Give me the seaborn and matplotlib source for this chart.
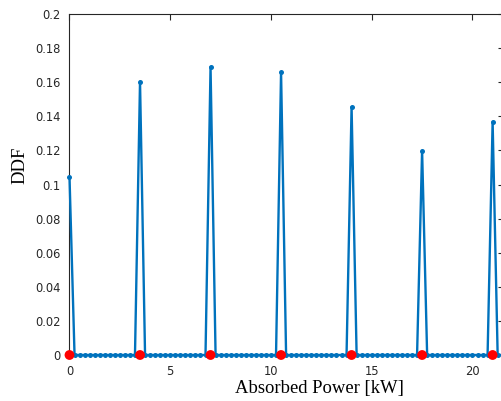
import numpy as np
import pandas as pd
import matplotlib
matplotlib.use("Agg")
import matplotlib.pyplot as plt
import seaborn as sns

# Power levels (kW) with nonzero probability and their DDF values
peak_power = [0.0, 3.5, 7.0, 10.5, 14.0, 17.5, 21.0]
peak_ddf = [0.1045, 0.1603, 0.1690, 0.1660, 0.1455, 0.1198, 0.1368]

# Evaluation grid of absorbed power
grid_step = 0.25
grid_max = 21.5
x_max = 21.55

x_ticks = [0, 5, 10, 15, 20]
y_ticks = [0, 0.02, 0.04, 0.06, 0.08, 0.10, 0.12, 0.14, 0.16, 0.18, 0.20]
y_tick_labels = ["0", "0.02", "0.04", "0.06", "0.08", "0.1", "0.12", "0.14", "0.16", "0.18", "0.2"]

power = np.round(np.arange(0, grid_max + grid_step / 2, grid_step), 4)
ddf = np.zeros_like(power)
for p, v in zip(peak_power, peak_ddf):
    ddf[np.argmin(np.abs(power - p))] = v
df = pd.DataFrame({"power": power, "ddf": ddf})
levels = pd.DataFrame({"power": peak_power, "ddf": [0.0] * len(peak_power)})

sns.set_style("white")
plt.rcParams["font.family"] = ["DejaVu Sans"]

fig = plt.figure(figsize=(5.02, 4.01), dpi=100)
ax = fig.add_axes([69.5 / 502, 46 / 401, 434.2 / 502, 341 / 401])

dark = "#262626"
blue = "#0072BD"

sns.lineplot(data=df, x="power", y="ddf", ax=ax, color=blue, linewidth=1.7,
             marker="o", markersize=3.6, markeredgewidth=0, clip_on=False,
             zorder=3)
sns.scatterplot(data=levels, x="power", y="ddf", ax=ax, color="#FF0000",
                s=50, edgecolor="none", clip_on=False, zorder=4)

ax.set_xlim(0, x_max)
ax.set_ylim(0, 0.2)
ax.set_xticks(x_ticks)
ax.set_xticklabels([str(t) for t in x_ticks])
ax.set_yticks(y_ticks)
ax.set_yticklabels(y_tick_labels)

for s in ax.spines.values():
    s.set_visible(True)
    s.set_color(dark)
    s.set_linewidth(0.8)

ax.tick_params(axis="both", direction="in", length=4, width=0.8, color=dark,
               labelcolor=dark, labelsize=8.3, top=True, right=True)
ax.tick_params(axis="x", pad=7)
ax.tick_params(axis="y", pad=6.5)

ax.set_xlabel("Absorbed Power [kW]", family="Liberation Serif", fontsize=13.4,
              color="black", va="center")
ax.set_ylabel("DDF", family="Liberation Serif", fontsize=13.4,
              color="black", va="center")
ax.xaxis.set_label_coords(0.5755, -0.097)
ax.yaxis.set_label_coords(-0.114, 0.557)

fig.savefig("out.png", dpi=100)
